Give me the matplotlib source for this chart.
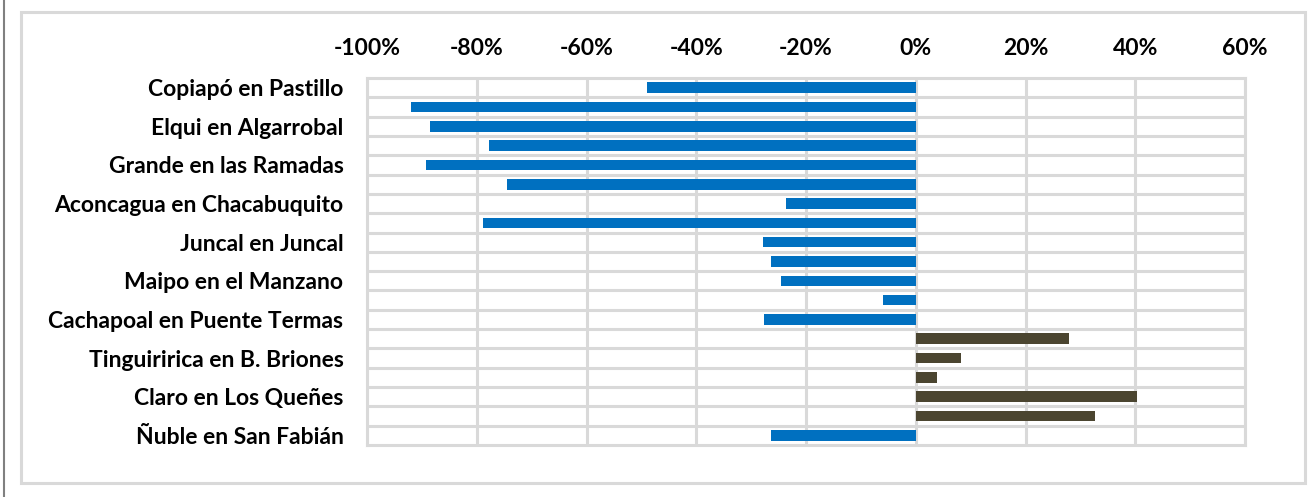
import numpy as np
import matplotlib.pyplot as plt
from matplotlib.patches import Rectangle
from matplotlib.lines import Line2D
from matplotlib.ticker import FuncFormatter, MultipleLocator

plt.rcParams['font.family'] = ['Lato', 'DejaVu Sans']
plt.rcParams['font.weight'] = 'bold'

# stations (only every other label is shown in the original chart)
stations = [
    "Copiapó en Pastillo", "",
    "Elqui en Algarrobal", "",
    "Grande en las Ramadas", "",
    "Aconcagua en Chacabuquito", "",
    "Juncal en Juncal", "",
    "Maipo en el Manzano", "",
    "Cachapoal en Puente Termas", "",
    "Tinguiririca en B. Briones", "",
    "Claro en Los Queñes", "",
    "Ñuble en San Fabián",
]
# percent change
change = [-49, -92, -88.6, -77.7, -89.2, -74.4, -23.7, -78.8, -27.8, -26.3,
          -24.5, -5.9, -27.7, 28.0, 8.2, 3.8, 40.3, 32.7, -26.3]

blue = '#0070C0'
dark = '#4B4530'
grid_c = '#D9D9D9'

fig = plt.figure(figsize=(13.15, 4.97), dpi=100)
ax = fig.add_axes([367 / 1315, 1 - 445 / 497, (1245 - 367) / 1315, (445 - 78) / 497])

y = np.arange(len(stations))
vals = np.array(change)
colors = np.where(vals < 0, blue, dark)
ax.barh(y, vals, height=0.55, color=colors, zorder=3)

ax.set_xlim(-100, 60)
ax.set_ylim(len(stations) - 0.5, -0.5)
ax.xaxis.set_major_locator(MultipleLocator(20))
ax.xaxis.set_major_formatter(FuncFormatter(lambda v, p: f"{v:.0f}%"))
ax.xaxis.tick_top()
ax.set_yticks(y)
ax.set_yticklabels(stations, fontweight='bold')
ax.set_yticks(np.arange(0.5, len(stations) - 1, 1), minor=True)

ax.tick_params(axis='both', length=0, labelsize=16.5, colors='black')
ax.tick_params(axis='x', pad=14)
ax.tick_params(axis='y', pad=17)
ax.tick_params(which='minor', length=0)

ax.grid(axis='x', which='major', color=grid_c, lw=2.2, zorder=0)
ax.grid(axis='y', which='minor', color=grid_c, lw=2.2, zorder=0)
for s in ax.spines.values():
    s.set_color(grid_c)
    s.set_linewidth(2.2)

# outer chart frame and the screenshot edge
fig.patches.append(Rectangle((21 / 1315, 1 - 483 / 497), (1305 - 21) / 1315, (483 - 12) / 497,
                             transform=fig.transFigure, fill=False,
                             edgecolor=grid_c, lw=2.2))
fig.lines.append(Line2D([4 / 1315, 4 / 1315], [0, 1], transform=fig.transFigure,
                        color='#808080', lw=1.5))

fig.savefig('out.png', dpi=100)
